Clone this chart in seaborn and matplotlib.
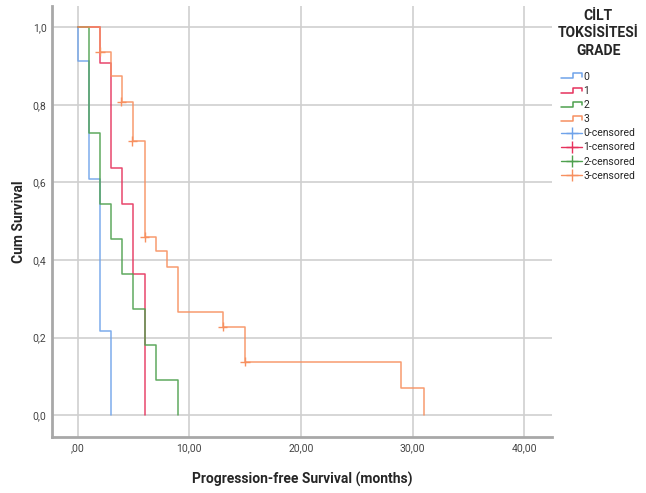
import matplotlib
matplotlib.use('Agg')
import matplotlib.pyplot as plt
import pandas as pd
import seaborn as sns
from matplotlib.legend_handler import HandlerBase
from matplotlib.lines import Line2D

# Kaplan-Meier steps per grade (time in months, cumulative survival)
grade_labels = ['0', '1', '2', '3']

grade0_time = [0, 0, 1, 2, 3]
grade0_surv = [1.0, 0.913, 0.609, 0.217, 0.0]

grade1_time = [0, 2, 3, 4, 5, 6]
grade1_surv = [1.0, 0.909, 0.636, 0.545, 0.364, 0.0]

grade2_time = [0, 1, 2, 3, 4, 5, 6, 7, 9]
grade2_surv = [1.0, 0.727, 0.545, 0.455, 0.364, 0.273, 0.182, 0.091, 0.0]

grade3_time = [0, 2, 3, 4, 5, 6, 7, 8, 9, 13, 15, 29, 31]
grade3_surv = [1.0, 0.937, 0.874, 0.808, 0.707, 0.459, 0.422, 0.383, 0.267, 0.228, 0.138, 0.069, 0.0]

# censored observations (only grade 3 has any)
censor3_time = [2, 3.9, 4.9, 6, 13, 15]
censor3_surv = [0.937, 0.808, 0.707, 0.459, 0.228, 0.138]

x_ticks = [0, 10, 20, 30, 40]
x_tick_labels = [',00', '10,00', '20,00', '30,00', '40,00']
y_ticks = [0.0, 0.2, 0.4, 0.6, 0.8, 1.0]
y_tick_labels = ['0,0', '0,2', '0,4', '0,6', '0,8', '1,0']

colors = {'0': '#6fa3ea', '1': '#e6325c', '2': '#4ea04e', '3': '#f79060'}

# Build long table for seaborn
frames = []
for g, t, s in zip(grade_labels,
                   [grade0_time, grade1_time, grade2_time, grade3_time],
                   [grade0_surv, grade1_surv, grade2_surv, grade3_surv]):
    frames.append(pd.DataFrame({'time': t, 'surv': s, 'grade': g}))
curves = pd.concat(frames, ignore_index=True)
censored = pd.DataFrame({'time': censor3_time, 'surv': censor3_surv, 'grade': '3'})


# Legend handle drawn as a small step, like SPSS does
class StepHandler(HandlerBase):
    def create_artists(self, legend, orig_handle, xdescent, ydescent, width, height, fontsize, trans):
        w, h = width, height
        xs = [-xdescent, -xdescent + 0.55 * w, -xdescent + 0.55 * w, -xdescent + w, -xdescent + w]
        ys = [-ydescent + 0.15 * h, -ydescent + 0.15 * h, -ydescent + 0.85 * h, -ydescent + 0.85 * h, -ydescent + 0.35 * h]
        line = Line2D(xs, ys, color=orig_handle.get_color(), lw=1.1, transform=trans)
        return [line]


sns.set_style('white')
plt.rcParams['font.family'] = ['Roboto', 'DejaVu Sans']

fig = plt.figure(figsize=(6.46, 4.93), dpi=100)
ax = fig.add_axes([0.0805, 0.113, 0.7735, 0.875])

sns.lineplot(data=curves, x='time', y='surv', hue='grade', palette=colors,
             estimator=None, sort=False, drawstyle='steps-post', linewidth=1.1,
             alpha=0.9, legend=False, ax=ax, zorder=3)
sns.scatterplot(data=censored, x='time', y='surv', hue='grade', palette=colors,
                marker='+', s=45, linewidth=1.0, legend=False, ax=ax, zorder=4)

ax.set_xlim(-2.3, 42.47)
ax.set_ylim(-0.057, 1.055)
ax.set_xticks(x_ticks)
ax.set_xticklabels(x_tick_labels)
ax.set_yticks(y_ticks)
ax.set_yticklabels(y_tick_labels)
ax.tick_params(length=0, labelsize=7.5, labelcolor='#444444', pad=4)

ax.grid(True, color='#cfcfcf', linewidth=1.2)
ax.set_axisbelow(True)
for side in ['top', 'right']:
    ax.spines[side].set_visible(False)
for side in ['left', 'bottom']:
    ax.spines[side].set_color('#a8a8a8')
    ax.spines[side].set_linewidth(2)

ax.set_xlabel('Progression-free Survival (months)', fontsize=10, fontweight='bold', labelpad=14)
ax.set_ylabel('Cum Survival', fontsize=10, fontweight='bold', labelpad=5)

# Legend
step_handles = [Line2D([], [], color=colors[g]) for g in grade_labels]
cens_handles = [Line2D([0], [0], color=colors[g], marker='+', markersize=9, lw=1.0) for g in grade_labels]
labels = grade_labels + [g + '-censored' for g in grade_labels]
handler_map = {h: StepHandler() for h in step_handles}
leg = fig.legend(step_handles + cens_handles, labels, handler_map=handler_map,
                 title='CİLT\nTOKSİSİTESİ\nGRADE', loc='upper left',
                 bbox_to_anchor=(0.857, 0.99), frameon=False, fontsize=7.5,
                 handlelength=2.0, handletextpad=0.1, labelspacing=0.4,
                 borderaxespad=0, alignment='center')
leg.get_title().set_fontweight('bold')
leg.get_title().set_fontsize(10)
leg.get_title().set_linespacing(1.3)
leg.get_title().set_multialignment('center')
# more room between the title and the entries
leg._legend_box.sep = 10

fig.savefig('out.png', dpi=100)
